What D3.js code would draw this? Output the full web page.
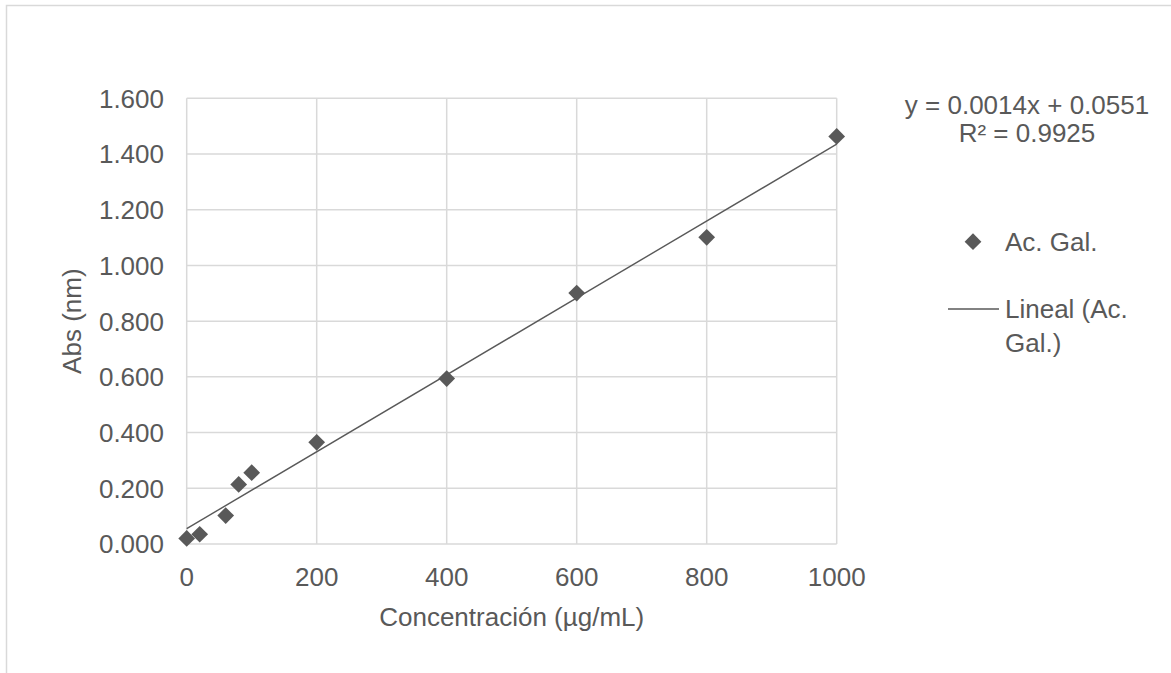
<!DOCTYPE html>
<html>
<head>
<meta charset="utf-8">
<script src="https://cdn.jsdelivr.net/npm/d3@7"></script>
<style>
  body { margin: 0; background: #fff; }
  text { font-family: "Liberation Sans", Arial, sans-serif; fill: #595959; }
</style>
</head>
<body>
<script>
// data
const concentracion = [0, 20, 60, 80, 100, 200, 400, 600, 800, 1000];
const absorbancia = [0.020, 0.035, 0.102, 0.214, 0.256, 0.365, 0.594, 0.901, 1.101, 1.463];
const xTicks = [0, 200, 400, 600, 800, 1000];
const yTicks = [0, 0.2, 0.4, 0.6, 0.8, 1.0, 1.2, 1.4, 1.6];
const equationLines = ["y = 0.0014x + 0.0551", "R\u00b2 = 0.9925"];
const legendLabels = ["Ac. Gal.", ["Lineal (Ac.", "Gal.)"]];

const W = 1171, H = 673;
const grey = '#595959', gridColor = '#d9d9d9';
const fs = 26;

let svg = d3.select("body")
            .append("svg")
            .attr("width", W)
            .attr("height", H);

// chart area border (cropped on right/bottom)
svg.append("rect")
    .attr("x", 6.5).attr("y", 5.5)
    .attr("width", W).attr("height", H)
    .attr("fill", "none")
    .attr("stroke", gridColor)
    .attr("stroke-width", 1.5);

let x = d3.scaleLinear().domain([0, 1000]).range([186.7, 836.7]);
let y = d3.scaleLinear().domain([0, 1.6]).range([544, 98.3]);

// gridlines
svg.append("g").selectAll("line.h")
    .data(yTicks).enter().append("line")
    .attr("x1", x(0)).attr("x2", x(1000))
    .attr("y1", d => y(d)).attr("y2", d => y(d))
    .attr("stroke", gridColor).attr("stroke-width", 1.5);
svg.append("g").selectAll("line.v")
    .data(xTicks).enter().append("line")
    .attr("x1", d => x(d)).attr("x2", d => x(d))
    .attr("y1", y(0)).attr("y2", y(1.6))
    .attr("stroke", gridColor).attr("stroke-width", 1.5);

// tick labels
svg.append("g").selectAll("text")
    .data(yTicks).enter().append("text")
    .attr("x", 164).attr("y", d => y(d))
    .attr("dy", "0.36em")
    .attr("text-anchor", "end")
    .attr("font-size", fs)
    .text(d => d3.format(".3f")(d));
svg.append("g").selectAll("text")
    .data(xTicks).enter().append("text")
    .attr("x", d => x(d)).attr("y", 585.5)
    .attr("text-anchor", "middle")
    .attr("font-size", fs)
    .text(d => d);

// axis titles
svg.append("text")
    .attr("x", x(500)).attr("y", 626)
    .attr("text-anchor", "middle")
    .attr("font-size", fs)
    .text("Concentración (µg/mL)");
svg.append("text")
    .attr("transform", "translate(81," + ((y(0) + y(1.6)) / 2) + ") rotate(-90)")
    .attr("text-anchor", "middle")
    .attr("font-size", fs)
    .text("Abs (nm)");

// least squares trendline
let mx = d3.mean(concentracion), my = d3.mean(absorbancia);
let sxy = d3.sum(concentracion, (v, i) => (v - mx) * (absorbancia[i] - my));
let sxx = d3.sum(concentracion, v => (v - mx) * (v - mx));
let slope = sxy / sxx, intercept = my - slope * mx;

let line = d3.line().x(d => x(d)).y(d => y(slope * d + intercept));
svg.append("path")
    .datum([0, 1000])
    .attr("d", line)
    .attr("fill", "none")
    .attr("stroke", grey)
    .attr("stroke-width", 1.4);

// markers
let diamond = d3.symbol().type(d3.symbolSquare).size(140);
svg.append("g").selectAll("path")
    .data(concentracion).enter().append("path")
    .attr("d", diamond)
    .attr("transform", (d, i) => "translate(" + x(d) + "," + y(absorbancia[i]) + ") rotate(45)")
    .attr("fill", grey);

// equation label
svg.append("g").selectAll("text")
    .data(equationLines).enter().append("text")
    .attr("x", 1027).attr("y", (d, i) => 114 + i * 28)
    .attr("text-anchor", "middle")
    .attr("font-size", fs)
    .text(d => d);

// legend
svg.append("path")
    .attr("d", diamond)
    .attr("transform", "translate(973,241.7) rotate(45)")
    .attr("fill", grey);
svg.append("text")
    .attr("x", 1005).attr("y", 241.7).attr("dy", "0.36em")
    .attr("font-size", fs)
    .text(legendLabels[0]);
svg.append("line")
    .attr("x1", 948).attr("x2", 999)
    .attr("y1", 309).attr("y2", 309)
    .attr("stroke", grey).attr("stroke-width", 1.4);
svg.append("g").selectAll("text")
    .data(legendLabels[1]).enter().append("text")
    .attr("x", 1005).attr("y", (d, i) => 309 + i * 34).attr("dy", "0.36em")
    .attr("font-size", fs)
    .text(d => d);
</script>
</body>
</html>
